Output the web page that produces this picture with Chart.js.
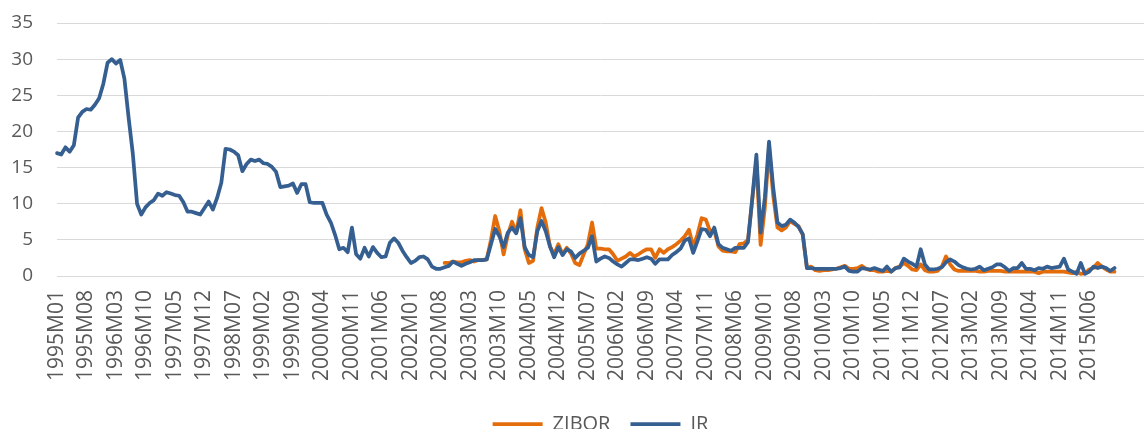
<!DOCTYPE html>
<html>
<head>
<meta charset="utf-8">
<script src="https://cdn.jsdelivr.net/npm/chart.js@4"></script>
<style>
  html, body { margin:0; padding:0; background:#fff; overflow:hidden; }
  #wrap { position:relative; width:1146px; height:444px; }
</style>
</head>
<body>
<div id="wrap"><canvas id="chartRates"></canvas></div>
<script>
// Categorias: meses 1995M01 ... 2016M07 (o eixo continua depois dos dados)
const firstYear = 1995;
const monthCount = 259;
const months = [];
for (let i = 0; i < monthCount; i++) {
  const y = firstYear + Math.floor(i / 12), m = (i % 12) + 1;
  months.push(y + 'M' + String(m).padStart(2, '0'));
}

// Rótulos visíveis do eixo x
const shownTicks = ['1995M01','1995M08','1996M03','1996M10','1997M05','1997M12','1998M07','1999M02',
  '1999M09','2000M04','2000M11','2001M06','2002M01','2002M08','2003M03','2003M10','2004M05','2004M12',
  '2005M07','2006M02','2006M09','2007M04','2007M11','2008M06','2009M01','2009M08','2010M03','2010M10',
  '2011M05','2011M12','2012M07','2013M02','2013M09','2014M04','2014M11','2015M06'];

const yTicks = [0, 5, 10, 15, 20, 25, 30, 35];

// IR, 1995M01 - 2015M12
const irValues = [
  17.0, 16.8, 17.8, 17.2, 18.1, 21.9, 22.7, 23.1, 23.0, 23.7,
  24.6, 26.6, 29.5, 30.0, 29.4, 29.9, 27.3, 21.9, 16.9, 10.0,
  8.5, 9.5, 10.1, 10.5, 11.4, 11.1, 11.6, 11.4, 11.2, 11.1,
  10.2, 8.9, 8.9, 8.7, 8.5, 9.4, 10.3, 9.2, 10.8, 12.9,
  17.6, 17.5, 17.2, 16.7, 14.5, 15.5, 16.1, 15.9, 16.1, 15.6,
  15.5, 15.1, 14.4, 12.3, 12.4, 12.5, 12.8, 11.5, 12.7, 12.7,
  10.2, 10.1, 10.1, 10.1, 8.5, 7.4, 5.7, 3.7, 3.9, 3.3,
  6.7, 3.0, 2.4, 3.9, 2.7, 4.0, 3.2, 2.6, 2.7, 4.6,
  5.2, 4.6, 3.5, 2.6, 1.8, 2.1, 2.6, 2.7, 2.3, 1.3,
  1.0, 1.0, 1.2, 1.4, 2.0, 1.7, 1.4, 1.7, 1.9, 2.2,
  2.2, 2.2, 2.3, 4.4, 6.5, 5.5, 4.0, 6.0, 6.7, 5.9,
  8.0, 4.0, 2.9, 2.6, 6.2, 7.6, 6.2, 4.1, 2.6, 4.0,
  2.9, 3.7, 3.4, 2.5, 3.1, 3.5, 3.9, 5.5, 2.0, 2.4,
  2.7, 2.5, 2.0, 1.6, 1.3, 1.8, 2.3, 2.3, 2.2, 2.4,
  2.6, 2.4, 1.7, 2.3, 2.3, 2.3, 2.9, 3.3, 3.8, 4.9,
  5.2, 3.2, 4.8, 6.5, 6.4, 5.5, 6.7, 4.4, 3.9, 3.7,
  3.5, 3.9, 3.9, 3.9, 4.7, 10.6, 16.8, 6.0, 10.8, 18.6,
  12.2, 7.4, 6.9, 7.1, 7.8, 7.4, 6.8, 5.8, 1.1, 1.1,
  1.0, 1.0, 1.0, 1.0, 1.0, 1.0, 1.1, 1.3, 0.7, 0.6,
  0.6, 1.1, 1.0, 0.9, 1.1, 0.9, 0.7, 1.3, 0.6, 1.1,
  1.2, 2.4, 2.0, 1.7, 1.3, 3.7, 1.6, 0.9, 0.9, 1.0,
  1.2, 1.9, 2.3, 2.0, 1.5, 1.2, 1.0, 0.9, 1.0, 1.3,
  0.8, 1.0, 1.2, 1.6, 1.6, 1.2, 0.7, 1.1, 1.1, 1.8,
  1.0, 1.0, 0.8, 1.1, 1.0, 1.3, 1.1, 1.2, 1.3, 2.4,
  0.9, 0.6, 0.3, 1.8, 0.3, 0.6, 1.3, 1.1, 1.3, 1.1,
  0.7, 1.1
];

// ZIBOR, começa em 2002M09
const ziborStart = 92;
const ziborValues = [
  1.8, 1.8, 2.0, 1.9, 1.9, 2.1, 2.2, 2.0,
  2.2, 2.2, 2.3, 5.0, 8.3, 6.2, 3.0, 5.7, 7.5, 6.0,
  9.1, 3.7, 1.8, 2.1, 6.7, 9.4, 7.4, 4.1, 3.0, 4.4,
  3.0, 3.9, 3.1, 1.8, 1.5, 3.0, 4.4, 7.4, 3.8, 3.8,
  3.7, 3.7, 3.0, 2.1, 2.4, 2.7, 3.2, 2.7, 3.0, 3.4,
  3.7, 3.7, 2.5, 3.7, 3.2, 3.7, 4.0, 4.4, 4.9, 5.5,
  6.4, 4.1, 5.7, 8.0, 7.8, 6.2, 6.3, 4.1, 3.5, 3.4,
  3.4, 3.3, 4.4, 4.5, 5.0, 10.4, 15.9, 4.3, 9.4, 17.8,
  11.1, 6.7, 6.3, 6.7, 7.6, 7.2, 6.9, 5.7, 1.1, 1.3,
  0.8, 0.7, 0.8, 0.8, 0.9, 1.0, 1.2, 1.4, 1.0, 1.0,
  1.1, 1.4, 1.0, 0.8, 0.8, 0.6, 0.6, 0.7, 0.6, 1.1,
  1.3, 1.8, 1.4, 0.9, 0.8, 1.6, 0.8, 0.6, 0.6, 0.7,
  1.3, 2.7, 1.6, 0.9, 0.7, 0.7, 0.7, 0.7, 0.7, 0.6,
  0.6, 0.7, 0.7, 0.7, 0.7, 0.6, 0.6, 0.6, 0.6, 0.6,
  0.6, 0.6, 0.6, 0.4, 0.6, 0.6, 0.6, 0.6, 0.6, 0.6,
  0.5, 0.4, 0.6, 0.3, 0.4, 0.9, 1.1, 1.8, 1.3, 0.9,
  0.6, 0.6
];

// Paleta
const orange = '#e46c0a', blue = '#365f91', gridGray = '#d9d9d9', textGray = '#595959';
const fontFamily = '"Open Sans", "Liberation Sans", sans-serif';

const ziborData = new Array(ziborStart).fill(null).concat(ziborValues);

new Chart(document.getElementById('chartRates'), {
  type: 'line',
  data: {
    labels: months,
    datasets: [
      { label: 'ZIBOR', data: ziborData, borderColor: orange, backgroundColor: orange,
        borderWidth: 3.75, pointRadius: 0, tension: 0, order: 1,
        borderJoinStyle: 'round', borderCapStyle: 'round' },
      { label: 'IR', data: irValues, borderColor: blue, backgroundColor: blue,
        borderWidth: 3.75, pointRadius: 0, tension: 0, order: 0,
        borderJoinStyle: 'round', borderCapStyle: 'round' }
    ]
  },
  options: {
    responsive: true, maintainAspectRatio: false, animation: false,
    layout: { padding: { top: 23, right: 2, left: 0, bottom: 0 } },
    scales: {
      x: {
        offset: false,
        grid: { display: false, drawTicks: false },
        border: { display: false },
        ticks: {
          autoSkip: false, maxRotation: 90, minRotation: 90, padding: 14,
          color: textGray, font: { family: fontFamily, size: 21 },
          callback: function (v) {
            const lab = this.getLabelForValue(v);
            return shownTicks.includes(lab) ? lab : null;
          }
        },
        afterFit: s => { s.height = 118; }
      },
      y: {
        min: 0, max: 35,
        afterBuildTicks: s => { s.ticks = yTicks.map(v => ({ value: v })); },
        grid: { color: gridGray, lineWidth: 1, drawTicks: false },
        border: { display: false },
        ticks: { padding: 24, color: textGray, font: { family: fontFamily, size: 19 } },
        afterFit: s => { s.width = 57; s.paddingTop = 0; s.paddingBottom = 0; }
      }
    },
    plugins: {
      legend: {
        position: 'bottom', fullSize: false,
        labels: {
          usePointStyle: true, pointStyle: 'line', pointStyleWidth: 50,
          color: textGray, font: { family: fontFamily, size: 20 }, padding: 20,
          sort: (a, b) => a.datasetIndex - b.datasetIndex
        }
      },
      tooltip: { enabled: false }
    }
  }
});
</script>
</body>
</html>
